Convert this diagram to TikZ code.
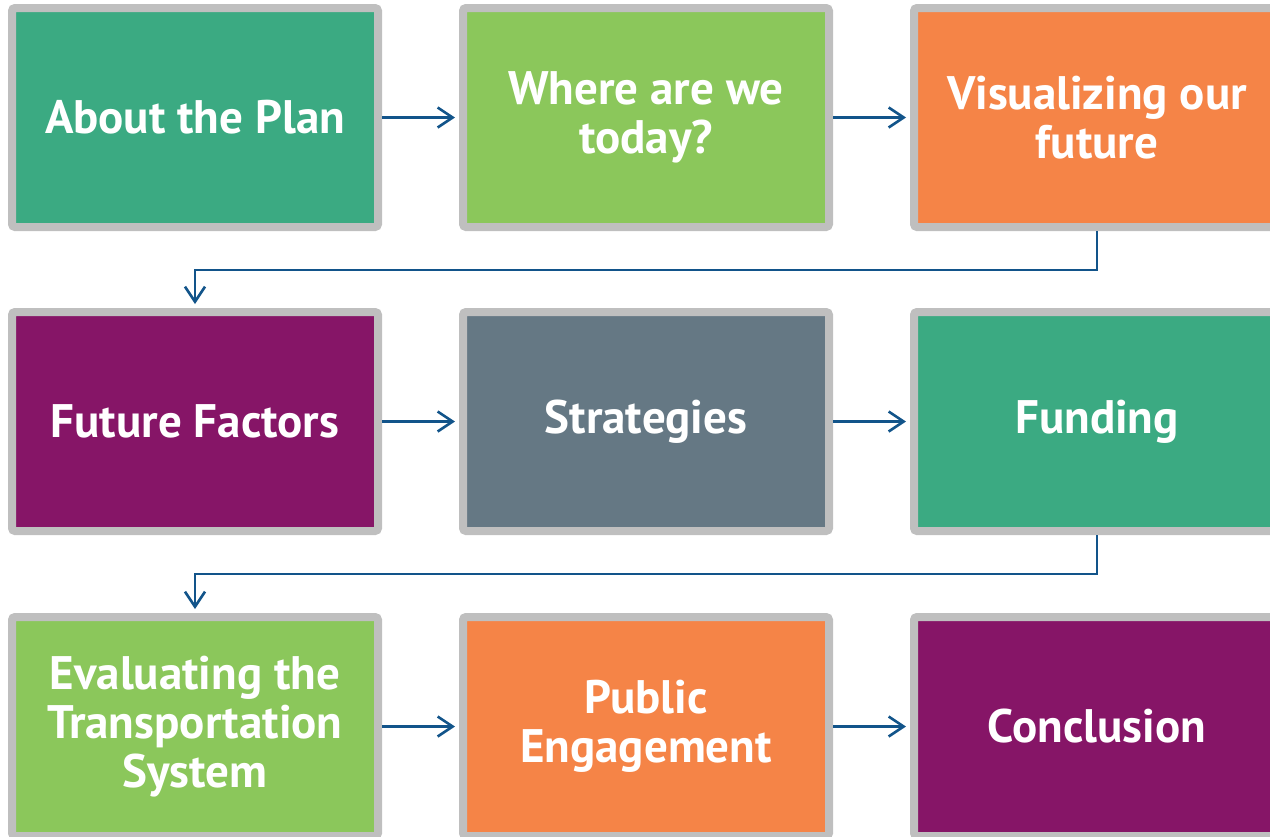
\documentclass[tikz,border=0pt]{standalone}
\usepackage{fontspec}
\setmainfont{PT Sans}
\usetikzlibrary{arrows.meta}
\definecolor{cteal}{HTML}{3BAA82}
\definecolor{cgreen}{HTML}{8BC75B}
\definecolor{corange}{HTML}{F58447}
\definecolor{cpurple}{HTML}{861567}
\definecolor{cslate}{HTML}{657884}
\definecolor{cborder}{HTML}{BFBFBF}
\definecolor{carrow}{HTML}{12548A}
\tikzset{
  box/.style={draw=cborder, line width=8pt, rounded corners=3pt,
    minimum width=366pt, minimum height=219pt, inner sep=0pt,
    text=white, align=center, font=\fontsize{47}{49}\selectfont\bfseries},
  link/.style={draw=carrow, line width=2.6pt,
    -{Straight Barb[length=15pt,width=20pt,line width=2.6pt]}, shorten >=4pt}
}
\begin{document}
\begin{tikzpicture}[x=1pt,y=-1pt]
\useasboundingbox (0,0) rectangle (1270,836);
\clip (0,0) rectangle (1270,836);
\node[box, fill=cteal]   (a) at (195,117.5) {About the Plan};
\node[box, fill=cgreen]  (b) at (646,117.5) {Where are we\\today?};
\node[box, fill=corange] (c) at (1097,117.5) {Visualizing our\\future};
\node[box, fill=cpurple] (d) at (195,421.5) {Future Factors};
\node[box, fill=cslate]  (e) at (646,421.5) {Strategies};
\node[box, fill=cteal]   (f) at (1097,421.5) {Funding};
\node[box, fill=cgreen]  (g) at (195,726.5) {Evaluating the\\Transportation\\System};
\node[box, fill=corange] (h) at (646,726.5) {Public\\Engagement};
\node[box, fill=cpurple] (i) at (1097,726.5) {Conclusion};
\draw[link] (a.east) -- (b.west);
\draw[link] (b.east) -- (c.west);
\draw[link] (d.east) -- (e.west);
\draw[link] (e.east) -- (f.west);
\draw[link] (g.east) -- (h.west);
\draw[link] (h.east) -- (i.west);
\draw[link] (c.south) -- ++(0,39) -| (d.north);
\draw[link] (f.south) -- ++(0,39) -| (g.north);
\end{tikzpicture}
\end{document}
